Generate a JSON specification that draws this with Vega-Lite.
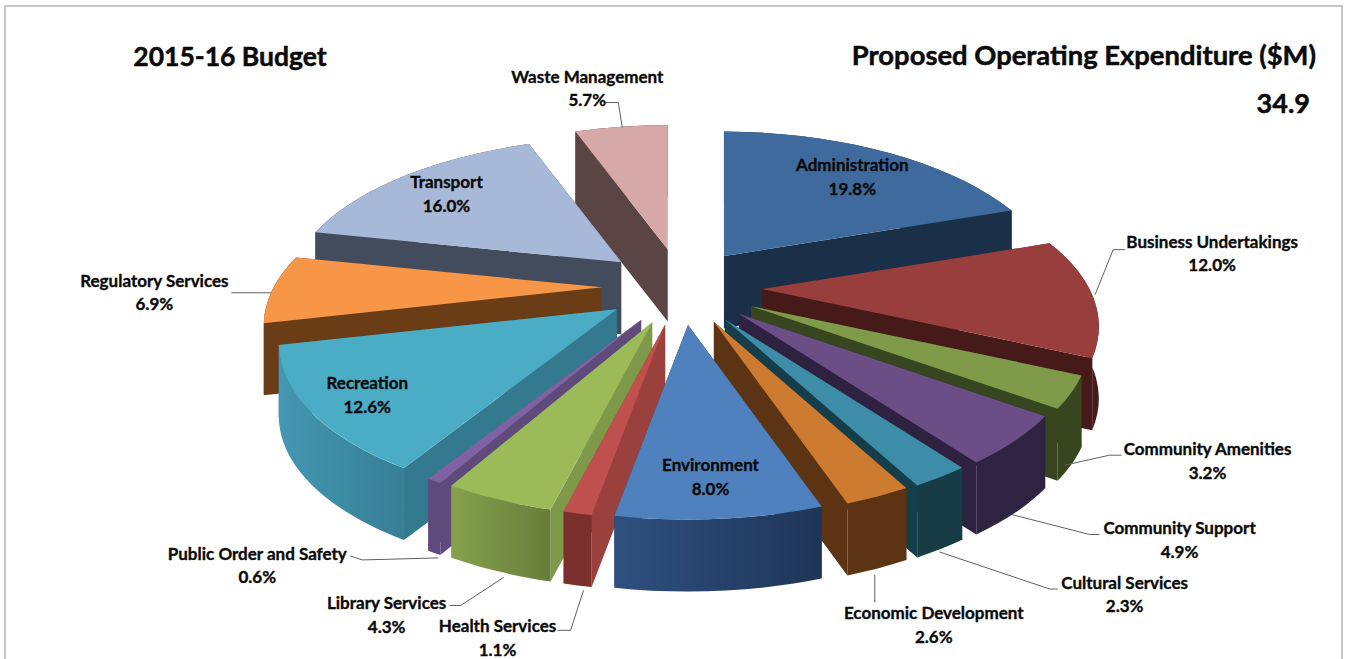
{
  "$schema": "https://vega.github.io/schema/vega-lite/v6.json",
  "width": 1337,
  "height": 660,
  "autosize": "none",
  "padding": {"left": 5, "top": 6, "right": 8, "bottom": 0},
  "background": "white",
  "view": {"stroke": "#b4b4b4", "strokeWidth": 1.5, "fill": "white"},
  "config": {"text": {"font": "Lato", "fontWeight": "bold", "color": "#0a0a0a", "stroke": "#0a0a0a", "strokeWidth": 0.35}},
  "data": {
    "values": [
      {"name": "Administration", "pct": 19.8},
      {"name": "Business Undertakings", "pct": 12.0},
      {"name": "Community Amenities", "pct": 3.2},
      {"name": "Community Support", "pct": 4.9},
      {"name": "Cultural Services", "pct": 2.3},
      {"name": "Economic Development", "pct": 2.6},
      {"name": "Environment", "pct": 8.0},
      {"name": "Health Services", "pct": 1.1},
      {"name": "Library Services", "pct": 4.3},
      {"name": "Public Order and Safety", "pct": 0.6},
      {"name": "Recreation", "pct": 12.6},
      {"name": "Regulatory Services", "pct": 6.9},
      {"name": "Transport", "pct": 16.0},
      {"name": "Waste Management", "pct": 5.7}
    ]
  },
  "transform": [
    {"window": [{"op": "sum", "field": "pct", "as": "cumEnd"}]},
    {"calculate": "2*PI*(datum.cumEnd-datum.pct)/100", "as": "t1"},
    {"calculate": "2*PI*datum.cumEnd/100", "as": "t2"},
    {"calculate": "(datum.t1+datum.t2)/2", "as": "tm"},
    {"calculate": "80*sin(datum.tm)*(sin(datum.tm)>0 && cos(datum.tm)>0 ? 0.9 : 1)", "as": "apexX"},
    {"calculate": "-38*cos(datum.tm)", "as": "apexY"},
    {"calculate": "330*sin(datum.t1)/(1+(cos(datum.t1)>0?0.27:0.219)*cos(datum.t1))", "as": "x1"},
    {"calculate": "-152*cos(datum.t1)/(1+0.219*cos(datum.t1))", "as": "y1"},
    {"calculate": "330*sin(datum.t2)/(1+(cos(datum.t2)>0?0.27:0.219)*cos(datum.t2))", "as": "x2"},
    {"calculate": "-152*cos(datum.t2)/(1+0.219*cos(datum.t2))", "as": "y2"},
    {"calculate": "330*sin(datum.tm)/(1+(cos(datum.tm)>0?0.27:0.219)*cos(datum.tm))", "as": "xm"},
    {"calculate": "-152*cos(datum.tm)/(1+0.219*cos(datum.tm))", "as": "ym"},
    {"calculate": "'M0 0L'+datum.x1+' '+datum.y1+'A338 160 0 0 1 '+datum.x2+' '+datum.y2+'Z'", "as": "topPath"},
    {"calculate": "'M0 0L'+datum.x1+' '+datum.y1+'L'+datum.x1+' '+(datum.y1+72)+'L0 72ZM0 0L'+datum.x2+' '+datum.y2+'L'+datum.x2+' '+(datum.y2+72)+'L0 72Z'", "as": "sidePath"},
    {"calculate": "'M'+datum.x1+' '+datum.y1+'A338 160 0 0 1 '+datum.x2+' '+datum.y2+'L'+datum.x2+' '+(datum.y2+72)+'A338 160 0 0 0 '+datum.x1+' '+(datum.y1+72)+'Z'", "as": "rimPath"},
    {"calculate": "{'Business Undertakings':[117,-44,0,-2,18,-47,30,-47],'Community Amenities':[136,68,-7,73,38,63,50,63],'Community Support':[164,99,-4,74,74,94,84,94],'Cultural Services':[184,117,-1,75,109,112,117,112],'Economic Development':[56,128,-3,78,-3,78,-3,106],'Health Services':[-80,124,6,77,-7,117,-20,117],'Library Services':[-112,115,5,78,-38,106,-49,106],'Public Order and Safety':[-177,84,4,77,-72,79,-84,75],'Regulatory Services':[-117,3,0,4,-27,4,-40,4],'Waste Management':[-34,-39,1,1,-3,-24,-16,-24]}[datum.name]", "as": "lead"},
    {"calculate": "{'Administration':[7,1],'Recreation':[-13,7],'Transport':[-11,-2],'Environment':[-2,2]}[datum.name]", "as": "nudge"},
    {"calculate": "datum.apexX+datum.xm", "as": "rimX"},
    {"calculate": "datum.apexY+datum.ym", "as": "rimY"},
    {"calculate": "datum.lead ? datum.rimX+datum.lead[0] : datum.apexX+0.77*datum.xm+datum.nudge[0]", "as": "labelX"},
    {"calculate": "datum.lead ? datum.rimY+datum.lead[1] : datum.apexY+0.77*datum.ym+datum.nudge[1]", "as": "labelY"},
    {"calculate": "datum.lead ? 'M'+datum.lead[2]+' '+datum.lead[3]+'L'+datum.lead[4]+' '+datum.lead[5]+'L'+datum.lead[6]+' '+datum.lead[7] : ''", "as": "leadPath"},
    {"calculate": "datum.name+'\\n'+format(datum.pct,'.1f')+'%'", "as": "label"},
    {"calculate": "cos(datum.tm)", "as": "rearness"}
  ],
  "encoding": {
    "x": {"field": "apexX", "type": "quantitative", "axis": null, "scale": {"domain": [-677, 660], "nice": false, "zero": false}},
    "y": {"field": "apexY", "type": "quantitative", "axis": null, "scale": {"domain": [-281, 379], "nice": false, "zero": false, "reverse": true}}
  },
  "layer": [
    {
      "mark": {"type": "point", "filled": true, "opacity": 1, "strokeWidth": 0},
      "encoding": {
        "shape": {"field": "sidePath", "type": "nominal", "scale": null, "legend": null},
        "size": {"value": 4},
        "order": {"field": "rearness", "type": "quantitative", "sort": "descending"},
        "fill": {
          "field": "name", "type": "nominal", "legend": null, "sort": null,
          "scale": {
            "domain": ["Administration", "Business Undertakings", "Community Amenities", "Community Support", "Cultural Services", "Economic Development", "Environment", "Health Services", "Library Services", "Public Order and Safety", "Recreation", "Regulatory Services", "Transport", "Waste Management"],
            "range": ["#1A3049", "#451A18", "#37461F", "#2E2240", "#163E4A", "#5C3413", "#24405F", "#9A403D", "#7E994A", "#5F4A7C", "#347A8E", "#6B3D16", "#434C5C", "#5B4444"]
          }
        }
      }
    },
    {
      "mark": {"type": "point", "filled": true, "opacity": 1, "strokeWidth": 0},
      "encoding": {
        "shape": {"field": "rimPath", "type": "nominal", "scale": null, "legend": null},
        "size": {"value": 4},
        "order": {"field": "rearness", "type": "quantitative", "sort": "descending"},
        "fill": {
          "condition": [
            {"test": "datum.name==='Environment'", "value": {"gradient": "linear", "x1": 0, "x2": 1, "y1": 0, "y2": 0, "stops": [{"offset": 0, "color": "#2E5080"}, {"offset": 1, "color": "#1F3556"}]}},
            {"test": "datum.name==='Recreation'", "value": {"gradient": "linear", "x1": 0, "x2": 1, "y1": 0, "y2": 0, "stops": [{"offset": 0, "color": "#4497B2"}, {"offset": 1, "color": "#367F96"}]}},
            {"test": "datum.name==='Library Services'", "value": {"gradient": "linear", "x1": 0, "x2": 1, "y1": 0, "y2": 0, "stops": [{"offset": 0, "color": "#86A24C"}, {"offset": 1, "color": "#667D3B"}]}}
          ],
          "field": "name", "type": "nominal", "legend": null, "sort": null,
          "scale": {
            "domain": ["Administration", "Business Undertakings", "Community Amenities", "Community Support", "Cultural Services", "Economic Development", "Environment", "Health Services", "Library Services", "Public Order and Safety", "Recreation", "Regulatory Services", "Transport", "Waste Management"],
            "range": ["#1A3049", "#451A18", "#37461F", "#2E2340", "#183C45", "#5C3413", "#24405F", "#7B2F2D", "#7E994A", "#5F4A7C", "#347A8E", "#6B3D16", "#434C5C", "#5B4444"]
          }
        }
      }
    },
    {
      "mark": {"type": "point", "filled": true, "opacity": 1, "strokeWidth": 0},
      "encoding": {
        "shape": {"field": "topPath", "type": "nominal", "scale": null, "legend": null},
        "size": {"value": 4},
        "order": {"field": "rearness", "type": "quantitative", "sort": "descending"},
        "fill": {
          "field": "name", "type": "nominal", "legend": null, "sort": null,
          "scale": {
            "domain": ["Administration", "Business Undertakings", "Community Amenities", "Community Support", "Cultural Services", "Economic Development", "Environment", "Health Services", "Library Services", "Public Order and Safety", "Recreation", "Regulatory Services", "Transport", "Waste Management"],
            "range": ["#3F6A9E", "#983E3C", "#7F9A48", "#6A4E85", "#3D8CA8", "#CC7B30", "#4E81BD", "#BF504D", "#9BBB59", "#7F63A1", "#4BACC6", "#F79646", "#A8B8D8", "#D7A8A8"]
          }
        }
      }
    },
    {
      "transform": [{"filter": "datum.lead"}],
      "mark": {"type": "point", "filled": false, "opacity": 1, "stroke": "#5f5f5f", "strokeWidth": 1},
      "encoding": {
        "x": {"field": "rimX", "type": "quantitative"},
        "y": {"field": "rimY", "type": "quantitative"},
        "shape": {"field": "leadPath", "type": "nominal", "scale": null, "legend": null},
        "size": {"value": 4}
      }
    },
    {
      "mark": {"type": "text", "fontSize": 17, "lineBreak": "\n", "lineHeight": 23.5, "dy": -10, "align": "center", "baseline": "middle"},
      "encoding": {
        "x": {"field": "labelX", "type": "quantitative"},
        "y": {"field": "labelY", "type": "quantitative"},
        "text": {"field": "label", "type": "nominal"}
      }
    },
    {
      "data": {"values": [{"heading": "2015-16 Budget"}]},
      "mark": {"type": "text", "fontSize": 26.5, "align": "center", "baseline": "middle", "strokeWidth": 0.5},
      "encoding": {"x": {"value": 225}, "y": {"value": 52}, "text": {"field": "heading", "type": "nominal"}}
    },
    {
      "data": {"values": [{"heading": "Proposed Operating Expenditure ($M)"}]},
      "mark": {"type": "text", "fontSize": 27.4, "align": "right", "baseline": "middle", "strokeWidth": 0.5},
      "encoding": {"x": {"value": 1311}, "y": {"value": 51}, "text": {"field": "heading", "type": "nominal"}}
    },
    {
      "data": {"values": [{"total": 34.9}]},
      "mark": {"type": "text", "fontSize": 27, "align": "right", "baseline": "middle", "strokeWidth": 0.5},
      "encoding": {"x": {"value": 1305}, "y": {"value": 99}, "text": {"field": "total", "type": "quantitative", "format": ".1f"}}
    }
  ],
  "resolve": {"scale": {"fill": "independent"}}
}
